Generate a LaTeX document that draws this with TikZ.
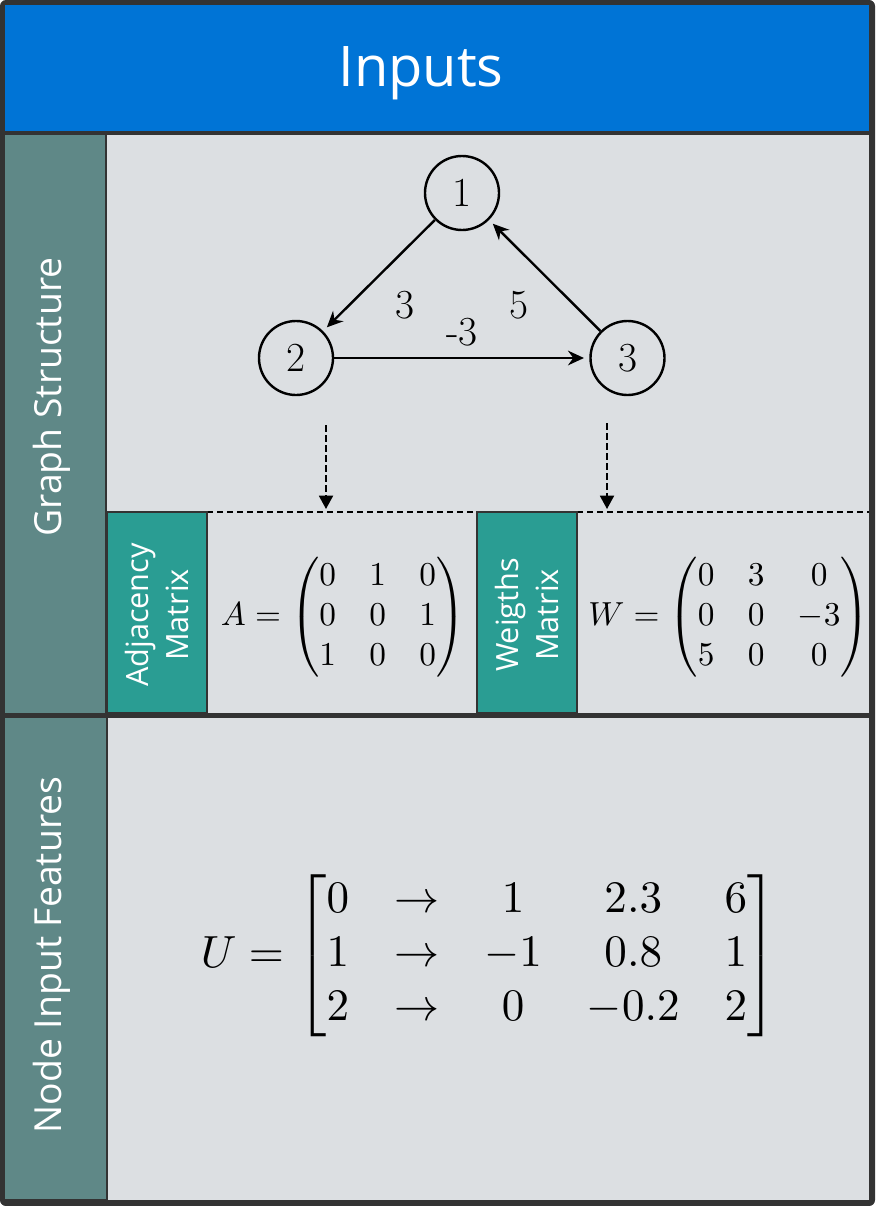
\documentclass[tikz,border=0pt]{standalone}
\usepackage{amsmath}
\usepackage{fontspec}
\newfontfamily\labelfont{Open Sans}
\usepackage{tikz}
\usetikzlibrary{arrows.meta}

\definecolor{titleblue}{HTML}{0074D6}
\definecolor{sidegray}{HTML}{5F8887}
\definecolor{panelgray}{HTML}{DCDFE2}
\definecolor{boxgreen}{HTML}{2A9D93}
\definecolor{framegray}{HTML}{333333}

\begin{document}
\begin{tikzpicture}
	[
	 x = 0.75pt,
	 y = -0.75pt,
	 every node/.style = {inner sep = 0pt,
	                      align = center},
	 V/.style  = {shape = circle,
	              draw,
	              line width = 1.8pt,
	              minimum size = 55.5pt,
	              font = \fontsize{31}{37}\selectfont},
	 WT/.style = {font = \fontsize{31}{37}\selectfont},
	 SB/.style = {rotate = 90,
	              text = white,
	              font = \labelfont\fontsize{28}{34}\selectfont},
	 MB/.style = {rotate = 90,
	              text = white,
	              font = \labelfont\fontsize{23}{30}\selectfont},
	 link/.style = {line width = 1.8pt,
	                shorten > = 4pt,
	                -{Stealth[length = 12pt, width = 11pt, inset = 4pt]}},
	 drop/.style = {line width = 1.4pt,
	                dash pattern = on 5pt off 2.5pt,
	                -{Triangle[length = 10pt, width = 10.5pt]}},
	 mbox/.style = {draw = framegray,
	                line width = 1.5pt,
	                fill = boxgreen}
	]
	
	\newcommand{\AMX}{\scalebox{2.5}{$A = \begin{pmatrix} 0 & 1 & 0\\ 0 & 0 & 1\\ 1 & 0 & 0 \end{pmatrix}$}}
	\newcommand{\WMX}{\scalebox{2.5}{$W = \begin{pmatrix} 0 & 3 & 0\\ 0 & 0 & -3\\ 5 & 0 & 0 \end{pmatrix}$}}
	\newcommand{\UMX}{\scalebox{3.38}{$U = \begin{bmatrix} 0 & \rightarrow & 1 & 2.3 & 6\\
	                                                     1 & \rightarrow & -1 & 0.8 & 1\\
	                                                     2 & \rightarrow & 0 & -0.2 & 2 \end{bmatrix}$}}
	
	\useasboundingbox (0,0) rectangle (875,1206);
	
	% frame and panels
	\fill [framegray, rounded corners = 4.5pt] (0,0) rectangle (875,1206);
	\fill [titleblue] (5,5)     rectangle (869,131);
	\fill [sidegray]  (5,135)   rectangle (105,713);
	\fill [panelgray] (107,135) rectangle (869,713);
	\fill [sidegray]  (5,718)   rectangle (106,1199);
	\fill [panelgray] (108,718) rectangle (869,1200);
	
	\draw [line width = 1.5pt, dash pattern = on 4.5pt off 3pt] (107,512) -- (869,512);
	\draw [mbox] (107,512) rectangle (207,713);
	\draw [mbox] (477,512) rectangle (577,713);
	
	% labels
	\node [anchor = base, text = white, font = \labelfont\fontsize{42}{50}\selectfont] (T) at (421,86) {Inputs};
	\node [SB] (S1) at (52,397) {Graph Structure};
	\node [SB] (S2) at (52,955) {Node Input Features};
	\node [MB] (M1) at (157,615) {Adjacency\\Matrix};
	\node [MB] (M2) at (527,615) {Weigths\\Matrix};
	
	% graph
	\node [V] (N1) at (462,193)   {1};
	\node [V] (N2) at (296,358)   {2};
	\node [V] (N3) at (627.5,358) {3};
	
	\draw [link] (N1) -- (N2);
	\draw [link] (N2) -- (N3);
	\draw [link] (N3) -- (N1);
	
	\begin{scope}[nodes = {WT}]
	   \path (N1) -- (N2) node [pos = .5, shift = {(26,29.5)}]  {3};
	   \path (N2) -- (N3) node [pos = .5, shift = {(0,-26)}]    {-3};
	   \path (N3) -- (N1) node [pos = .5, shift = {(-25.5,29.5)}] {5};
	\end{scope}
	
	\coordinate (Ds1) at (326,425);
	\coordinate (De1) at (326,509);
	\coordinate (Ds2) at (607,423);
	\coordinate (De2) at (607,509);
	\draw [drop] (Ds1) -- (De1);
	\draw [drop] (Ds2) -- (De2);
	
	% matrices
	\node (A) at (343,617) {\AMX};
	\node (W) at (729,617) {\WMX};
	\node (U) at (489,956) {\UMX};
\end{tikzpicture}
\end{document}
